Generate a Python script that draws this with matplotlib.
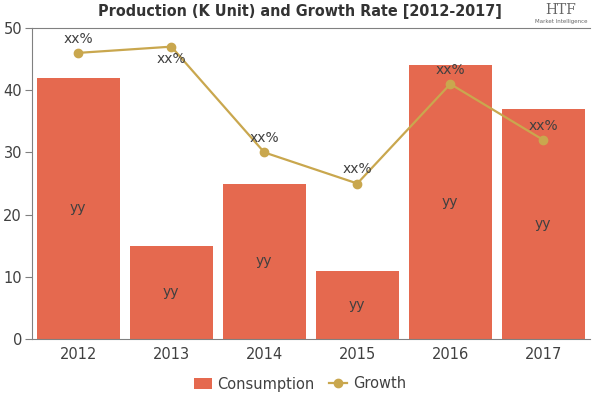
import matplotlib.pyplot as plt
import numpy as np

years = ['2012', '2013', '2014', '2015', '2016', '2017']
consumption = [42, 15, 25, 11, 44, 37]
growth = [46, 47, 30, 25, 41, 32]
bar_labels = ['yy'] * 6
growth_labels = ['xx%'] * 6

bar_color = '#E5694F'
line_color = '#C9A74E'
text_color = '#404040'

fig = plt.figure(figsize=(6, 4), dpi=100)
ax = fig.add_axes([0.053, 0.1525, 0.93, 0.7775])

x = np.arange(len(years))
bars = ax.bar(x, consumption, width=0.89, color=bar_color, label='Consumption')
line, = ax.plot(x, growth, color=line_color, lw=1.6, marker='o', ms=6, label='Growth')

for xi, v, t in zip(x, consumption, bar_labels):
    ax.text(xi, v / 2, t, ha='center', va='center', fontsize=10, color=text_color)
for i, (xi, v, t) in enumerate(zip(x, growth, growth_labels)):
    off = -2.0 if i == 1 else 2.3
    ax.text(xi, v + off, t, ha='center', va='center', fontsize=10, color=text_color)

ax.set_xlim(-0.5, 5.5)
ax.set_ylim(0, 50)
ax.set_yticks([0, 10, 20, 30, 40, 50])
ax.set_xticks(x)
ax.set_xticklabels(years)
ax.tick_params(colors=text_color, labelsize=10.5)
ax.tick_params(axis='x', length=0, pad=6)
ax.tick_params(axis='y', length=5, pad=2, color='#808080')
for s in ['left', 'bottom', 'top']:
    ax.spines[s].set_color('#808080')
ax.spines['right'].set_visible(False)

fig.text(0.5, 0.972, 'Production (K Unit) and Growth Rate [2012-2017]', ha='center', va='center',
         fontsize=11.5, fontweight='heavy', fontstretch='condensed', color='#333333')
fig.text(0.935, 0.975, 'HTF', ha='center', va='center', fontsize=10, family='serif', color='#666666')
fig.text(0.935, 0.945, 'Market Intelligence', ha='center', va='center', fontsize=4, color='#666666')

fig.legend([bars, line], ['Consumption', 'Growth'], loc='center', bbox_to_anchor=(0.5, 0.04),
           ncol=2, frameon=False, fontsize=10.5, handlelength=1.2, columnspacing=1.0,
           handletextpad=0.4, labelcolor=text_color)

fig.savefig('out.png', dpi=100)
